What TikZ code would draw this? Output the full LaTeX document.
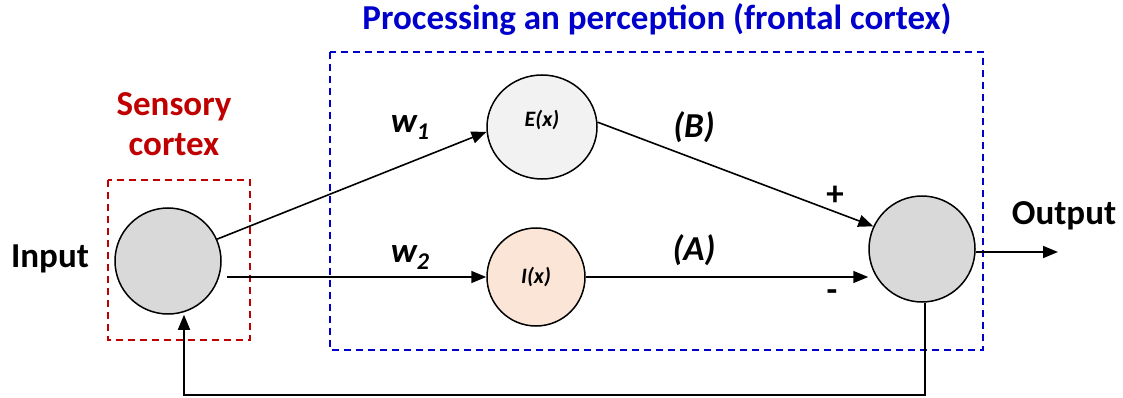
\documentclass[tikz,border=0pt]{standalone}
\usepackage{fontspec}
\setmainfont{Carlito}
\usetikzlibrary{arrows.meta,shapes.geometric}
\definecolor{redc}{HTML}{C00000}
\definecolor{bluec}{HTML}{0000CC}
\definecolor{grayf}{HTML}{D9D9D9}
\definecolor{ef}{HTML}{F2F2F2}
\definecolor{iff}{HTML}{FBE5D6}
\newcommand{\mysub}[1]{\raisebox{-7pt}{\fontsize{24}{28}\selectfont #1}}
\tikzset{
  neuron/.style={circle, draw=black, line width=1.5pt, inner sep=0pt},
  conn/.style={line width=1.6pt, -{Triangle[length=15pt,width=12pt]}},
  lbl/.style={font=\fontsize{35}{42}\selectfont\bfseries},
  ilbl/.style={font=\fontsize{35}{42}\selectfont\bfseries\itshape},
  small/.style={font=\fontsize{22}{26}\selectfont\bfseries\itshape},
  region/.style={dashed, line width=1.6pt, dash pattern=on 7pt off 5pt},
}
\begin{document}
\begin{tikzpicture}[x=1pt,y=-1pt]
\useasboundingbox (0,0) rectangle (1123,398);
% regions
\draw[region, draw=redc] (108,180) rectangle (250,340);
\draw[region, draw=bluec] (330,52) rectangle (983,350);
\node[lbl, text=bluec] (title) at (657,19) {Processing an perception (frontal cortex)};
\node[text=redc, align=center, font=\fontsize{35}{40}\selectfont\bfseries] (sens) at (174,124) {Sensory\\cortex};
% neurons
\node[neuron, fill=grayf, minimum size=106pt] (S) at (168,261) {};
\node[neuron, fill=ef, ellipse, minimum width=110pt, minimum height=104pt] (E) at (542,127) {};
\node[small] (Et) at (542,120) {E(x)};
\node[neuron, fill=iff, minimum size=98pt] (I) at (536,277) {};
\node[small] (It) at (536,277) {I(x)};
\node[neuron, fill=grayf, minimum size=106pt] (O) at (922,249) {};
\node[lbl] (in) at (50,259) {Input};
\node[lbl] (out) at (1064,216) {Output};
\coordinate (Oend) at (1058,252);
\coordinate (fb1) at (925,395);
\coordinate (fb2) at (184,395);
% connectors
\draw[conn] (S.24) -- (E.185);
\draw[conn] (S.east |- I.west) ++(5,0) -- (I.west);
\draw[conn] (E.5) -- (O.155);
\draw[conn] (I.east) -- (O.west |- I.east);
\draw[conn] (O.east |- Oend) -- (Oend);
\draw[conn] (O.south -| fb1) -- (fb1) -- (fb2) -- (S.south -| fb2);
% labels
\node[ilbl] (w1) at (410,128) {w\mysub{1}};
\node[ilbl] (w2) at (410,258) {w\mysub{2}};
\node[ilbl] (B) at (694,127) {(B)};
\node[ilbl] (A) at (694,250) {(A)};
\node[lbl] (plus) at (835,196) {+};
\node[lbl] (minus) at (832,296) {-};
\end{tikzpicture}
\end{document}
